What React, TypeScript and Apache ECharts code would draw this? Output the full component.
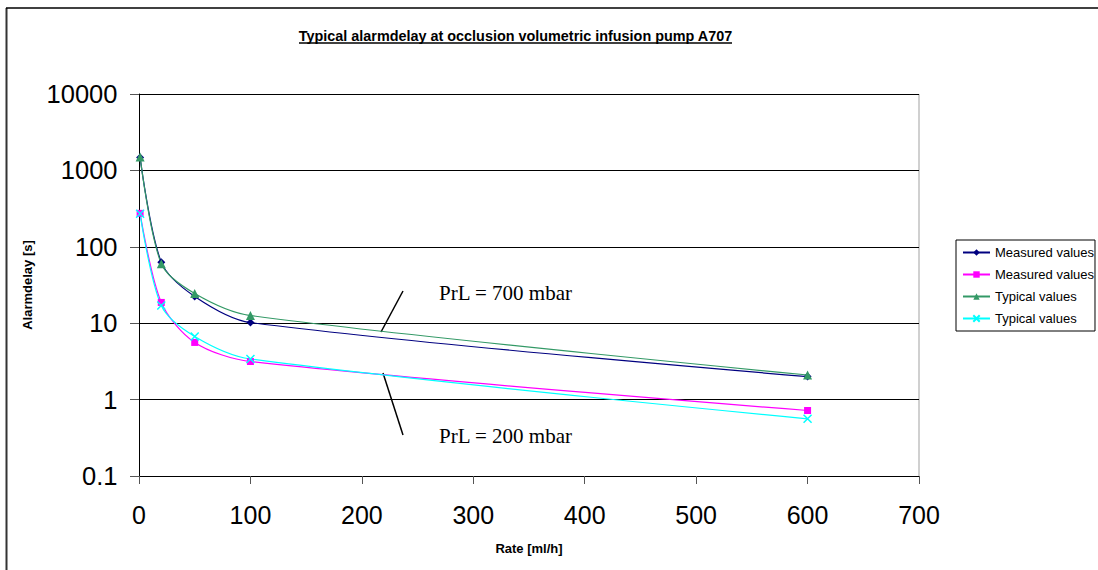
import React, { useEffect, useRef } from "react";
import * as echarts from "echarts";

const rates = [1, 20, 50, 100, 600];
const measured700 = [1480, 63, 22.4, 10.2, 2.0];
const measured200 = [274, 18.7, 5.6, 3.15, 0.72];
const typical700 = [1500, 60, 24.5, 12.6, 2.1];
const typical200 = [270, 17, 6.7, 3.4, 0.56];
const yTicks = [0.1, 1, 10, 100, 1000, 10000];

const titleText = "Typical alarmdelay at occlusion volumetric infusion pump A707";
const xTitle = "Rate [ml/h]";
const yTitle = "Alarmdelay [s]";
const label700 = "PrL = 700 mbar";
const label200 = "PrL = 200 mbar";

const pairs = (ys: number[]) => rates.map((x, i) => [x, ys[i]]);

export default function App() {
  const ref = useRef<HTMLDivElement>(null);
  useEffect(() => {
    document.body.style.margin = "0";
    const chart = echarts.init(ref.current!, null, { renderer: "svg" });
    const sans = "Liberation Sans, Arial, sans-serif";
    const serif = "Liberation Serif, Times New Roman, serif";
    const mk = (name: string, data: number[], color: string, symbol: string, size: number, stroke = false) => ({
      type: "line",
      name,
      data: pairs(data),
      smooth: 0.3,
      symbol,
      symbolSize: size,
      showSymbol: true,
      lineStyle: { color, width: 1.2 },
      itemStyle: stroke
        ? { color: "rgba(0,0,0,0)", borderColor: color, borderWidth: 1.5 }
        : { color, borderColor: color, borderWidth: 0 },
      emphasis: { disabled: true },
      z: 3,
    });
    chart.setOption({
      animation: false,
      backgroundColor: "#fff",
      grid: { left: 139, top: 94, right: 179, bottom: 94, containLabel: false },
      xAxis: {
        type: "value",
        min: 0,
        max: 700,
        interval: 100,
        name: xTitle,
        nameLocation: "middle",
        nameGap: 66,
        nameTextStyle: { fontFamily: sans, fontSize: 13, fontWeight: "bold", color: "#000" },
        axisLine: { show: true, onZero: false, lineStyle: { color: "#000", width: 1 } },
        axisTick: { show: true, length: 8, lineStyle: { color: "#555" } },
        axisLabel: { fontFamily: sans, fontSize: 25, color: "#000", margin: 26 },
        splitLine: { show: false },
      },
      yAxis: {
        type: "log",
        logBase: 10,
        min: 0.1,
        max: 10000,
        name: yTitle,
        nameLocation: "middle",
        nameRotate: 90,
        nameGap: 105,
        nameTextStyle: { fontFamily: sans, fontSize: 13, fontWeight: "bold", color: "#000" },
        axisLine: { show: true, lineStyle: { color: "#000", width: 1 } },
        axisTick: { show: true, length: 9, lineStyle: { color: "#555" } },
        axisLabel: {
          fontFamily: sans,
          fontSize: 25.5,
          color: "#000",
          margin: 21.5,
          formatter: (v: number) => {
            const m = yTicks.find((t) => Math.abs(Math.log10(t) - Math.log10(v)) < 1e-6);
            return m !== undefined ? String(m) : "";
          },
        },
        splitLine: { show: true, lineStyle: { color: "#000", width: 1 } },
      },
      legend: {
        orient: "vertical",
        left: 956,
        top: 240,
        padding: [5, 1, 5, 6],
        itemGap: 7,
        itemWidth: 27,
        itemHeight: 8,
        borderColor: "#000",
        borderWidth: 1,
        selectedMode: false,
        textStyle: { fontFamily: sans, fontSize: 13, color: "#000", lineHeight: 15 },
        formatter: (name: string) => name.replace(/ \(.*\)$/, ""),
        data: [
          "Measured values (700)",
          "Measured values (200)",
          "Typical values (700)",
          "Typical values (200)",
        ],
      },
      series: [
        mk("Measured values (700)", measured700, "#000080", "diamond", 8),
        mk("Measured values (200)", measured200, "#FF00FF", "rect", 7),
        mk("Typical values (700)", typical700, "#339966", "triangle", 9),
        mk("Typical values (200)", typical200, "#00FFFF", "path://M0,0L10,10M10,0L0,10", 8, true),
      ],
      graphic: [
        { type: "line", shape: { x1: 6.5, y1: 8, x2: 6.5, y2: 600 }, style: { stroke: "#333", lineWidth: 2 } },
        { type: "line", shape: { x1: 6, y1: 8, x2: 1100, y2: 8 }, style: { stroke: "#000", lineWidth: 1.5 } },
        { type: "line", shape: { x1: 919, y1: 94, x2: 919, y2: 476 }, style: { stroke: "#c0c0c0", lineWidth: 1.5 } },
        {
          type: "text",
          x: 515.5,
          y: 36,
          style: { text: titleText, fontFamily: sans, fontSize: 14.4, fontWeight: "bold", fill: "#000", align: "center", verticalAlign: "middle" },
        },
        { type: "line", shape: { x1: 299, y1: 43, x2: 732, y2: 43 }, style: { stroke: "#000", lineWidth: 1.5 } },
        { type: "line", shape: { x1: 403, y1: 291, x2: 381, y2: 332 }, style: { stroke: "#000", lineWidth: 1.5 } },
        { type: "line", shape: { x1: 383, y1: 373, x2: 403, y2: 435 }, style: { stroke: "#000", lineWidth: 1.5 } },
        {
          type: "text",
          x: 439,
          y: 293,
          style: { text: label700, fontFamily: serif, fontSize: 21, fill: "#000", align: "left", verticalAlign: "middle" },
        },
        {
          type: "text",
          x: 439,
          y: 436,
          style: { text: label200, fontFamily: serif, fontSize: 21, fill: "#000", align: "left", verticalAlign: "middle" },
        },
      ],
    });
    return () => chart.dispose();
  }, []);
  return <div ref={ref} style={{ width: 1098, height: 570 }} />;
}
